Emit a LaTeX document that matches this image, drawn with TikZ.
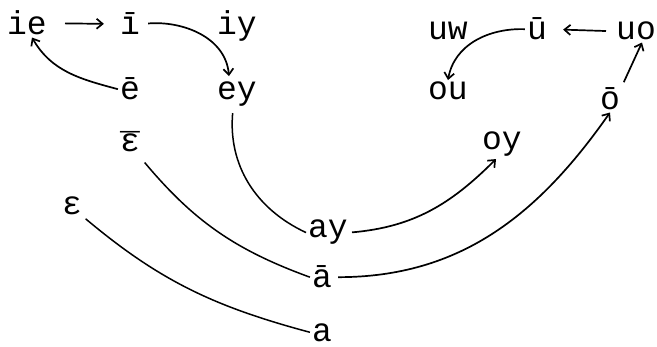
\documentclass[tikz,border=0pt]{standalone}
\usepackage{fontspec}
\setmonofont{Liberation Mono}
\usepackage{tikz}
\usetikzlibrary{arrows.meta}

\newcommand{\epsbarglyph}{\rlap{ε}\raisebox{-0.16em}{¯}}

\begin{document}
\begin{tikzpicture}[x=1pt, y=1pt,
  vow/.style={anchor=base, inner sep=2pt, font=\ttfamily\fontsize{33}{38}\selectfont},
  arr/.style={line width=1.7pt, ->, >={Straight Barb[length=6pt,width=10pt]}},
  lin/.style={line width=1.5pt}]
\useasboundingbox (0,0) rectangle (657,346);

\node[vow] (ie) at (27,311) {ie};
\node[vow] (ibar) at (130,311) {ī};
\node[vow] (iy) at (237,311) {iy};
\node[vow] (ebar) at (130,246) {ē};
\node[vow] (ey) at (237,246) {ey};
\node[vow] (epsbar) at (130,194) {\epsbarglyph};
\node[vow] (eps) at (72,131) {ε};
\node[vow] (ay) at (328,108) {ay};
\node[vow] (abar) at (322,58) {ā};
\node[vow] (a) at (322,5) {a};
\node[vow] (uw) at (448,306) {uw};
\node[vow] (ubar) at (537,306) {ū};
\node[vow] (uo) at (636,306) {uo};
\node[vow] (ou) at (448,246) {ou};
\node[vow] (obar) at (610,236) {ō};
\node[vow] (oy) at (502,196) {oy};

\draw[arr, shorten <=16pt, shorten >=14pt] (ie.east) -- (ibar.west);
\draw[arr] (ebar.west) to[out=165, in=-60] ([xshift=5pt]ie.south);
\draw[arr, shorten <=6pt] (ibar.east) to[out=5, in=95] ([xshift=-8pt, yshift=4pt]ey.north);
\draw[arr, shorten <=8pt, shorten >=14pt] (uo.west) -- (ubar.east);
\draw[arr] (ubar.west) to[out=178, in=80] (ou.north);
\draw[arr, shorten <=4pt] (obar.north east) -- ([xshift=6pt]uo.south);
\draw[lin, shorten <=4pt] ([xshift=-4pt]ey.south) to[out=-95, in=155] (ay.west);
\draw[lin, shorten <=4pt] (epsbar.south east) to[out=-50, in=160] (abar.west);
\draw[lin, shorten <=2pt] (eps.south east) to[out=-40, in=165] (a.west);
\draw[arr, shorten <=2pt] (ay.east) to[out=5, in=-135] ([xshift=-6pt]oy.south);
\draw[arr, shorten <=4pt] (abar.east) to[out=0, in=-125] (obar.south);
\end{tikzpicture}
\end{document}
